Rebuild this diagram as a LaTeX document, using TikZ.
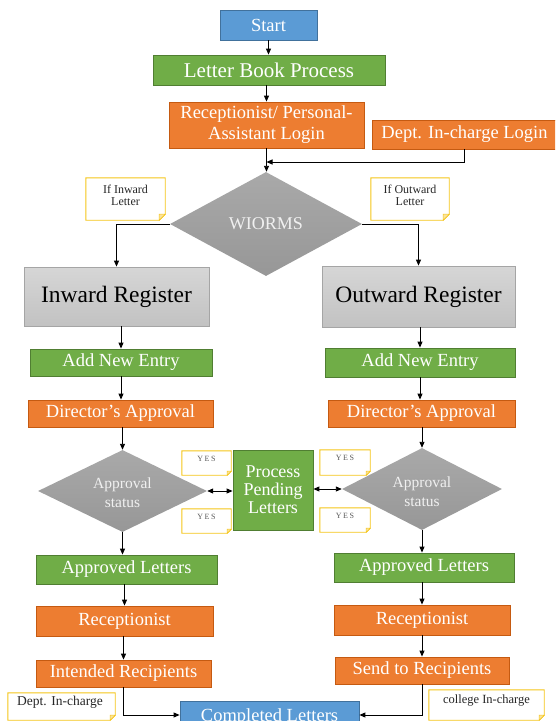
\documentclass[tikz,border=0pt]{standalone}
\usepackage{fontspec}
\setmainfont{Liberation Serif}
\usetikzlibrary{arrows.meta,shapes.geometric,calc}
\definecolor{cblue}{HTML}{5B9BD5}
\definecolor{cblueb}{HTML}{41719C}
\definecolor{cgreen}{HTML}{70AD47}
\definecolor{cgreenb}{HTML}{507E32}
\definecolor{corange}{HTML}{ED7D31}
\definecolor{corangeb}{HTML}{C55A11}
\definecolor{regtop}{HTML}{D6D6D6}
\definecolor{regbot}{HTML}{C2C2C2}
\definecolor{regb}{HTML}{A5A5A5}
\definecolor{dtop}{HTML}{A9A9A9}
\definecolor{dbot}{HTML}{979797}
\definecolor{cyel}{HTML}{F5C518}
\definecolor{cyelf}{HTML}{FBE39A}
\newcommand\foldnote[2]{%
  \draw[draw=cyel, line width=0.9pt] (#1.north west) -- (#1.north east) -- ([yshift=#2]#1.south east) -- ([xshift=-#2]#1.south east) -- (#1.south west) -- cycle;
  \filldraw[fill=cyelf, draw=cyel, line width=0.5pt] ([yshift=#2]#1.south east) -- ([xshift=-#2]#1.south east) -- ([xshift=-#2,yshift=#2]#1.south east) -- cycle;
}
\tikzset{
  box/.style={rectangle, inner sep=0pt, align=center, text=white, line width=0.8pt,
    font=\fontsize{18.5}{21}\selectfont},
  bluebox/.style={box, fill=cblue, draw=cblueb},
  greenbox/.style={box, fill=cgreen, draw=cgreenb},
  orangebox/.style={box, fill=corange, draw=corangeb},
  regbox/.style={rectangle, inner sep=0pt, top color=regtop, bottom color=regbot, draw=regb,
    line width=0.8pt, text=black, font=\fontsize{23.5}{26}\selectfont},
  decision/.style={diamond, inner sep=0pt, top color=dtop, bottom color=dbot, draw=none},
  dtext/.style={inner sep=0pt, align=center, text=white!94!black},
  notebox/.style={rectangle, inner sep=0pt, draw=none},
  notetext/.style={inner sep=0pt, align=center, text=black!85},
  yestext/.style={notetext, text=black!65, font=\fontsize{8}{9}\selectfont\addfontfeatures{LetterSpace=20}},
  conn/.style={line width=0.9pt, -{Triangle[length=6pt,width=5pt]}},
  dconn/.style={line width=0.9pt, {Triangle[length=6pt,width=5pt]}-{Triangle[length=6pt,width=5pt]}},
}
\begin{document}
\begin{tikzpicture}[x=1pt,y=-1pt]
\useasboundingbox (0,0) rectangle (555,721);
\clip (0,0) rectangle (555,721);

% top part
\node[bluebox, minimum width=97pt, minimum height=30pt] (start) at (268.5,25) {Start};
\node[greenbox, minimum width=232pt, minimum height=30pt, font=\fontsize{21}{24}\selectfont] (lbp) at (269,70) {Letter Book Process};
\node[orangebox, minimum width=195pt, minimum height=46pt] (rpl) at (266.5,125) {Receptionist/ Personal-\\Assistant Login};
\node[orangebox, minimum width=185pt, minimum height=29pt] (dil) at (464.5,134.5) {Dept. In-charge Login};

\node[decision, minimum width=192pt, minimum height=104pt] (wio) at (266,224) {};
\node[dtext, font=\fontsize{18}{20}\selectfont] (wiot) at (wio.center) {WIORMS};

\node[notebox, minimum width=79pt, minimum height=42pt] (nin) at (125.5,199) {};
\node[notetext, font=\fontsize{12}{12}\selectfont] (nint) at (125.5,195) {If Inward\\Letter};
\node[notebox, minimum width=78pt, minimum height=42pt] (nout) at (410,199) {};
\node[notetext, font=\fontsize{12}{12}\selectfont] (noutt) at (410,195) {If Outward\\Letter};
\foldnote{nin}{6pt}
\foldnote{nout}{6pt}

% registers
\node[regbox, minimum width=185pt, minimum height=59pt] (inreg) at (116.5,296.5) {Inward Register};
\node[regbox, minimum width=193pt, minimum height=61pt] (outreg) at (418.5,296.5) {Outward Register};

\node[greenbox, minimum width=182pt, minimum height=27pt] (addL) at (121,362.5) {Add New Entry};
\node[greenbox, minimum width=190pt, minimum height=29pt] (addR) at (420,362.5) {Add New Entry};
\node[orangebox, minimum width=185pt, minimum height=27pt] (dirL) at (120.5,413.5) {Director’s Approval};
\node[orangebox, minimum width=187pt, minimum height=27pt] (dirR) at (421.5,413.5) {Director’s Approval};

% approval
\node[decision, minimum width=169pt, minimum height=82pt] (apL) at (122.5,491) {};
\node[dtext, font=\fontsize{15.5}{19}\selectfont] (apLt) at (122.5,493) {Approval\\status};
\node[decision, minimum width=160pt, minimum height=82pt] (apR) at (422,489) {};
\node[dtext, font=\fontsize{15.5}{19}\selectfont] (apRt) at (422,492) {Approval\\status};

\node[greenbox, minimum width=80pt, minimum height=80pt, font=\fontsize{18}{18}\selectfont] (ppl) at (273,490) {Process\\Pending\\Letters};

\node[notebox, minimum width=49pt, minimum height=24pt] (yes1) at (206.5,463) {};
\node[yestext] (yes1t) at (206.5,459) {YES};
\node[notebox, minimum width=49pt, minimum height=24pt] (yes2) at (206.5,521) {};
\node[yestext] (yes2t) at (206.5,517) {YES};
\node[notebox, minimum width=50pt, minimum height=25pt] (yes3) at (345,462.5) {};
\node[yestext] (yes3t) at (345,458) {YES};
\node[notebox, minimum width=50pt, minimum height=24pt] (yes4) at (345,520) {};
\node[yestext] (yes4t) at (345,516) {YES};
\foldnote{yes1}{4pt}
\foldnote{yes2}{4pt}
\foldnote{yes3}{4pt}
\foldnote{yes4}{4pt}

% lower part
\node[greenbox, minimum width=181pt, minimum height=29pt] (okL) at (126.5,569.5) {Approved Letters};
\node[greenbox, minimum width=180pt, minimum height=29pt] (okR) at (424,567.5) {Approved Letters};
\node[orangebox, minimum width=177pt, minimum height=30pt] (recL) at (124.5,621) {Receptionist};
\node[orangebox, minimum width=176pt, minimum height=30pt] (recR) at (422,620) {Receptionist};
\node[orangebox, minimum width=175pt, minimum height=27pt] (intd) at (123.5,673.5) {Intended Recipients};
\node[orangebox, minimum width=174pt, minimum height=27pt] (send) at (422,670.5) {Send to Recipients};
\node[bluebox, minimum width=179pt, minimum height=32pt] (comp) at (269.5,717) {Completed Letters};

\node[notebox, minimum width=107pt, minimum height=27pt] (ndept) at (61.5,706.5) {};
\node[notetext, font=\fontsize{13.5}{14}\selectfont] (ndeptt) at (60,702.5) {Dept. In-charge};
\node[notebox, minimum width=115pt, minimum height=30pt] (ncoll) at (486.5,705) {};
\node[notetext, font=\fontsize{12.5}{13}\selectfont] (ncollt) at (486.5,700.5) {college In-charge};
\foldnote{ndept}{5pt}
\foldnote{ncoll}{5pt}

% connectors
\coordinate (j1) at (266.5,162);
\draw[conn] (start.south) -- (start.south |- lbp.north);
\draw[conn] (rpl.north |- lbp.south) -- (rpl.north);
\draw[conn] (rpl.south) -- (rpl.south |- wio.north);
\draw[conn] (dil.south) |- (j1);
\draw[conn] (wio.west) -| (inreg.north);
\draw[conn] (wio.east) -| (outreg.north);

\draw[conn] (addL.north |- inreg.south) -- (addL.north);
\draw[conn] (addL.south) -- (addL.south |- dirL.north);
\draw[conn] (apL.north |- dirL.south) -- (apL.north);
\draw[conn] (apL.south) -- (apL.south |- okL.north);
\draw[conn] (recL.north |- okL.south) -- (recL.north);
\draw[conn] (intd.north |- recL.south) -- (intd.north);
\draw[conn] (intd.south) |- ([yshift=2pt]comp.west);

\draw[conn] (addR.north |- outreg.south) -- (addR.north);
\draw[conn] (addR.south) -- (addR.south |- dirR.north);
\draw[conn] (apR.north |- dirR.south) -- (apR.north);
\draw[conn] (apR.south) -- (apR.south |- okR.north);
\draw[conn] (recR.north |- okR.south) -- (recR.north);
\draw[conn] (send.north |- recR.south) -- (send.north);
\draw[conn] (send.south) |- ([yshift=2pt]comp.east);

\draw[dconn] (apL.east) -- (apL.east -| ppl.west);
\draw[dconn] (ppl.east |- apR.west) -- (apR.west);
\end{tikzpicture}
\end{document}
